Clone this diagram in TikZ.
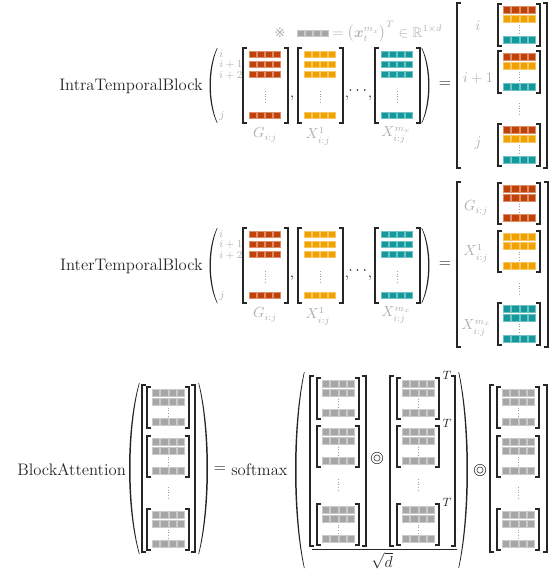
\documentclass[tikz,border=0pt]{standalone}
\usepackage{amsmath,amssymb}
\usepackage{fontspec}
\newfontfamily\djv{DejaVu Sans}
\definecolor{ink}{HTML}{262626}
\definecolor{cred}{RGB}{193,66,8}
\definecolor{corg}{RGB}{242,162,0}
\definecolor{ctea}{RGB}{19,153,156}
\definecolor{cgry}{RGB}{166,166,166}
\definecolor{lblg}{RGB}{175,175,175}
\definecolor{dotg}{RGB}{160,160,160}
\tikzset{
  brk/.style={draw=ink, line width=1pt},
  obrk/.style={draw=ink, line width=1.1pt},
  dotline/.style={draw=dotg, line width=0.7pt, dash pattern=on 0.7pt off 1.3pt},
  big/.style={text=ink, font=\fontsize{12.5}{15}\selectfont, inner sep=0pt},
  eqs/.style={text=ink, font=\fontsize{13}{15}\selectfont, inner sep=0pt},
  punct/.style={text=ink, font=\fontsize{12}{14}\selectfont, inner sep=0pt},
  lbl/.style={text=lblg, font=\fontsize{10.5}{12}\selectfont, inner sep=0pt},
  rowlbl/.style={text=lblg, font=\fontsize{8.2}{9}\selectfont, inner sep=0pt, anchor=west},
  tsup/.style={text=ink, font=\fontsize{9}{10}\selectfont, inner sep=0pt},
  ocirc/.style={draw=ink!85, line width=0.5pt},
  fracline/.style={draw=ink, line width=0.6pt}
}
\newcommand\lowsub[1]{\raisebox{-0.8pt}{$\scriptstyle #1$}}
% squares row: x left, y centre, colour, height
\newcommand\sqrow[4]{\foreach \k in {0,1,2,3}{\fill[#3, draw=#3!60!white, line width=0.25pt] ({#1+\k*8.1},{#2-#4/2}) rectangle ++(7.1,#4);}}
\newcommand\lbrk[4]{\draw[#4] ({#1+4},{#2}) -- ({#1},{#2}) -- ({#1},{#3}) -- ({#1+4},{#3});}
\newcommand\rbrk[4]{\draw[#4] ({#1-4},{#2}) -- ({#1},{#2}) -- ({#1},{#3}) -- ({#1-4},{#3});}
% small block: x, top, bottom, colours of rows
\newcommand\blk[6]{%
  \lbrk{#1}{#2}{#3}{brk}\rbrk{#1+42}{#2}{#3}{brk}
  \sqrow{#1+5.5}{#2+6}{#4}{7}
  \sqrow{#1+5.5}{#2+15}{#5}{7}
  \sqrow{#1+5.5}{#3-6}{#6}{7}
  \draw[dotline] ({#1+21},{#2+20.5}) -- ({#1+21},{#3-11.5});}
% big block: x, top, colour
\newcommand\bigblk[3]{%
  \lbrk{#1}{#2}{#2+75}{brk}\rbrk{#1+45}{#2}{#2+75}{brk}
  \sqrow{#1+6}{#2+6.5}{#3}{6.3}
  \sqrow{#1+6}{#2+16.5}{#3}{6.3}
  \sqrow{#1+6}{#2+26.5}{#3}{6.3}
  \sqrow{#1+6}{#2+67.5}{#3}{6.3}
  \draw[dotline] ({#1+22.5},{#2+43}) -- ({#1+22.5},{#2+55});}
% parenthesis: x of ends, top, bottom, bulge (signed), thickness (signed)
\newcommand\parenshape[5]{%
  \fill[ink] ({#1},{#2}) .. controls ({#1-1.333*(#4)},{#2+0.27*(#3-#2)}) and ({#1-1.333*(#4)},{#3-0.27*(#3-#2)}) .. ({#1},{#3})
    -- ({#1+0.35*(#5)},{#3}) .. controls ({#1-1.333*(#4)+(#5)},{#3-0.27*(#3-#2)}) and ({#1-1.333*(#4)+(#5)},{#2+0.27*(#3-#2)}) .. ({#1+0.35*(#5)},{#2}) -- cycle;}
\begin{document}
\begin{tikzpicture}[x=0.75pt,y=-0.75pt]
\useasboundingbox (0,0) rectangle (556,569);
\clip (0,0) rectangle (556,569);

%% ---------- note line
\node[lbl, font=\djv\fontsize{10}{11}\selectfont] (refm) at (280,33) {※};
\sqrow{297}{33}{cgry}{6.5}
\node[lbl, anchor=base west] (note) at (332,37) {$=\bigl(\boldsymbol{x}_{\lowsub{t}}^{m_x}\bigr)^{T}\in\mathbb{R}^{1\times d}$};

%% ---------- IntraTemporalBlock
\node[big, anchor=base east] (intra) at (203,90) {IntraTemporalBlock};
\parenshape{217}{48}{123}{7.5}{1.6}
\node[rowlbl] (ari) at (219,54) {$i$};
\node[rowlbl] (arii) at (219,65) {$i+1$};
\node[rowlbl] (ariii) at (219,76) {$i+2$};
\node[rowlbl] (arj) at (219,116) {$j$};
\bigblk{243}{48}{cred}
\bigblk{298}{48}{corg}
\bigblk{375}{48}{ctea}
\node[punct, anchor=base] (ac1) at (292,97) {,};
\node[punct, anchor=base] (ac2) at (347,97) {,};
\node[punct] (acd) at (359,91) {$\cdots$};
\node[punct, anchor=base] (ac3) at (370,97) {,};
\parenshape{422}{48}{123}{-7.5}{-1.6}
\node[lbl] (aG) at (265,135) {$G_{i:j}$};
\node[lbl] (aX1) at (318,136) {$X^{1}_{\lowsub{i:j}}$};
\node[lbl] (aXm) at (396,135) {$X^{m_x}_{\lowsub{i:j}}$};
\node[eqs] (aeq) at (445,85) {$=$};
\lbrk{457}{3}{168}{obrk}
\rbrk{547}{3}{168}{obrk}
\blk{498}{4}{46}{cred}{corg}{ctea}
\blk{498}{51}{93}{cred}{corg}{ctea}
\draw[dotline] (519,103) -- (519,114);
\blk{498}{124}{166}{cred}{corg}{ctea}
\node[lbl] (ali) at (478,26) {$i$};
\node[lbl] (alii) at (478,78) {$i+1$};
\node[lbl] (alj) at (478,143) {$j$};

%% ---------- InterTemporalBlock
\node[big, anchor=base east] (inter) at (203,270) {InterTemporalBlock};
\parenshape{217}{228}{303}{7.5}{1.6}
\node[rowlbl] (bri) at (219,234) {$i$};
\node[rowlbl] (brii) at (219,245) {$i+1$};
\node[rowlbl] (briii) at (219,256) {$i+2$};
\node[rowlbl] (brj) at (219,296) {$j$};
\bigblk{243}{228}{cred}
\bigblk{298}{228}{corg}
\bigblk{375}{228}{ctea}
\node[punct, anchor=base] (bc1) at (292,277) {,};
\node[punct, anchor=base] (bc2) at (347,277) {,};
\node[punct] (bcd) at (359,271) {$\cdots$};
\node[punct, anchor=base] (bc3) at (370,277) {,};
\parenshape{422}{228}{303}{-7.5}{-1.6}
\node[lbl] (bG) at (265,315) {$G_{i:j}$};
\node[lbl] (bX1) at (318,316) {$X^{1}_{\lowsub{i:j}}$};
\node[lbl] (bXm) at (396,315) {$X^{m_x}_{\lowsub{i:j}}$};
\node[eqs] (beq) at (445,265) {$=$};
\lbrk{457}{182}{347}{obrk}
\rbrk{548}{182}{347}{obrk}
\blk{498}{183}{224}{cred}{cred}{cred}
\blk{498}{231}{272}{corg}{corg}{corg}
\draw[dotline] (519,283) -- (519,294);
\blk{498}{303}{345}{ctea}{ctea}{ctea}
\node[lbl] (blG) at (476,208) {$G_{i:j}$};
\node[lbl] (blX1) at (476,253) {$X^{1}_{\lowsub{i:j}}$};
\node[lbl] (blXm) at (476,328) {$X^{m_x}_{\lowsub{i:j}}$};

%% ---------- BlockAttention
\node[big, anchor=base west] (ba) at (17,475) {BlockAttention};
\parenshape{139}{383}{554}{10}{1.8}
\lbrk{142}{385}{552}{obrk}
\rbrk{195}{385}{552}{obrk}
\blk{147}{387}{428}{cgry}{cgry}{cgry}
\blk{147}{436}{477}{cgry}{cgry}{cgry}
\draw[dotline] (168,487) -- (168,499);
\blk{147}{509}{550}{cgry}{cgry}{cgry}
\parenshape{199}{383}{554}{-9}{-1.8}
\node[eqs] (ceq) at (220,470) {$=$};
\node[big, anchor=base west] (sm) at (231,475) {softmax};
\parenshape{304}{372}{568}{9}{1.8}
% first factor
\lbrk{310}{376}{546}{obrk}
\rbrk{366}{376}{546}{obrk}
\blk{317}{378}{419}{cgry}{cgry}{cgry}
\blk{317}{426}{467}{cgry}{cgry}{cgry}
\draw[dotline] (338,479) -- (338,491);
\blk{317}{504}{545}{cgry}{cgry}{cgry}
\draw[ocirc] (377,458) circle[radius=4.3pt] (377,458) circle[radius=2.3pt];
% second factor
\lbrk{390}{376}{546}{obrk}
\rbrk{455}{376}{546}{obrk}
\blk{397}{378}{419}{cgry}{cgry}{cgry}
\blk{397}{426}{467}{cgry}{cgry}{cgry}
\draw[dotline] (418,479) -- (418,491);
\blk{397}{504}{545}{cgry}{cgry}{cgry}
\node[tsup] (t1) at (447,375) {$T$};
\node[tsup] (t2) at (447,423) {$T$};
\node[tsup] (t3) at (447,502) {$T$};
\draw[fracline] (312,549.5) -- (457,549.5);
\node[big] (sq) at (382,561) {$\sqrt{d}$};
\parenshape{459}{372}{568}{-9}{-1.8}
\draw[ocirc] (480,470) circle[radius=4.3pt] (480,470) circle[radius=2.3pt];
% third factor
\lbrk{490}{385}{552}{obrk}
\rbrk{547}{385}{552}{obrk}
\blk{497}{387}{428}{cgry}{cgry}{cgry}
\blk{497}{436}{477}{cgry}{cgry}{cgry}
\draw[dotline] (518,487) -- (518,499);
\blk{497}{509}{550}{cgry}{cgry}{cgry}
\end{tikzpicture}
\end{document}
